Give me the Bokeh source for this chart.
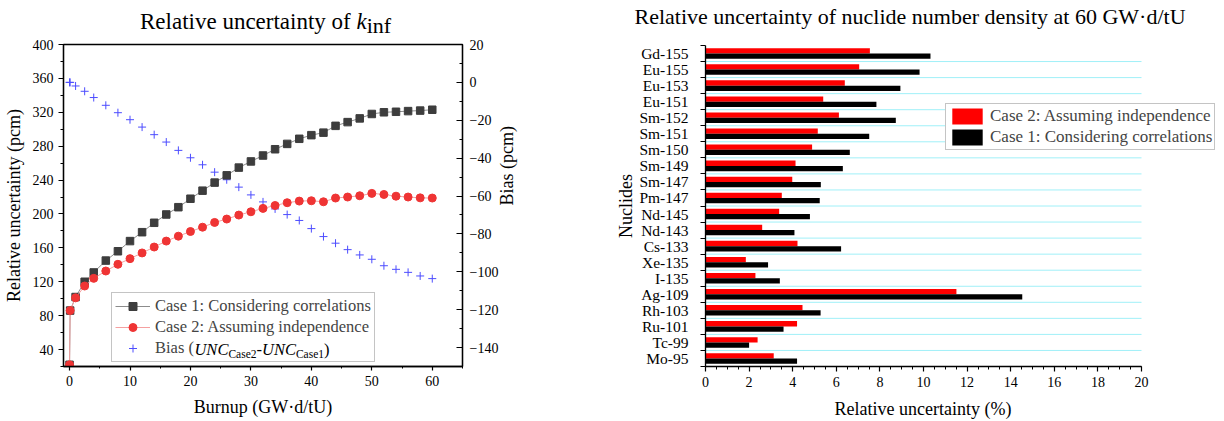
import math
from bokeh.plotting import figure
from bokeh.layouts import row, column
from bokeh.models import (Range1d, LinearAxis, FixedTicker, SingleIntervalTicker,
                          Legend, LegendItem, ColumnDataSource, Div)
from bokeh.core.properties import value
from bokeh.transform import dodge
from bokeh.embed import file_html
from bokeh.resources import INLINE

SERIF = "Liberation Serif"

# ---- k_inf uncertainty versus burnup ----
burnup = [0, 0.1, 1, 2.5, 4, 6, 8, 10, 12, 14, 16, 18, 20, 22, 24, 26, 28, 30,
          32, 34, 36, 38, 40, 42, 44, 46, 48, 50, 52, 54, 56, 58, 60]
unc_case1 = [22, 86, 102, 120, 131, 145, 156, 168, 178.5, 189.6, 199.4, 208, 218,
             227.5, 237, 245.6, 254.7, 262, 269, 276.4, 282.7, 288.7, 293, 296,
             304, 308.4, 312.8, 318, 320, 320.6, 321.4, 322, 323]
unc_case2 = [22, 86, 101, 115, 124, 132.7, 140.6, 147.3, 154, 161, 168, 173.8,
             179.3, 184.4, 190, 194, 198.7, 202.6, 206.6, 210, 213.3, 215.2, 215.6,
             214.4, 218.8, 220, 221.5, 224.3, 223, 221, 220, 219, 218.8]
bias = [0, 0, -1.9, -4.7, -8, -12.1, -16, -19.7, -23.6, -27.6, -31.5, -35.9, -39.8,
        -43.5, -47.4, -51.4, -55.3, -59.4, -63.1, -66.8, -69.8, -72.9, -77.2, -81.4,
        -84.9, -88.3, -91.1, -93.4, -96.8, -98.7, -100.3, -102.2, -103.6]

# ---- nuclide number density uncertainty at 60 GW.d/tU (bottom to top) ----
nuclides = ["Mo-95", "Tc-99", "Ru-101", "Rh-103", "Ag-109", "I-135", "Xe-135",
            "Cs-133", "Nd-143", "Nd-145", "Pm-147", "Sm-147", "Sm-149", "Sm-150",
            "Sm-151", "Sm-152", "Eu-151", "Eu-153", "Eu-155", "Gd-155"]
case2_pct = [3.13, 2.39, 4.20, 4.45, 11.51, 2.29, 1.85, 4.22, 2.60, 3.38, 3.50,
             3.98, 4.13, 4.89, 5.15, 6.12, 5.40, 6.39, 7.05, 7.54]
case1_pct = [4.20, 2.00, 3.58, 5.28, 14.53, 3.41, 2.87, 6.22, 4.08, 4.79, 5.24,
             5.29, 6.30, 6.62, 7.51, 8.73, 7.84, 8.94, 9.82, 10.32]


def style_axis(ax, tick_out=5, minor_out=3, tick_in=0, minor_in=0):
    ax.axis_line_color = "black"
    ax.axis_line_width = 1.3
    ax.major_tick_line_color = "black"
    ax.minor_tick_line_color = "black"
    ax.major_tick_line_width = 1.2
    ax.minor_tick_line_width = 1
    ax.major_tick_out = tick_out
    ax.major_tick_in = tick_in
    ax.minor_tick_out = minor_out
    ax.minor_tick_in = minor_in
    ax.major_label_text_font = SERIF
    ax.major_label_text_font_size = "14px"
    ax.major_label_text_color = "black"
    ax.axis_label_text_font = SERIF
    ax.axis_label_text_font_size = "18px"
    ax.axis_label_text_font_style = "normal"
    ax.axis_label_text_color = "black"


def text_div(html, width, height, css):
    return Div(text=f'<div style="font-family:\'{SERIF}\';color:black;'
                    f'white-space:nowrap;box-sizing:content-box;{css}">{html}</div>',
               width=width, height=height, margin=0)


# ================= left panel =================
p1 = figure(frame_width=399, frame_height=322,
            min_border_left=63, min_border_right=138,
            min_border_top=8, min_border_bottom=55,
            x_range=Range1d(-1, 65), y_range=Range1d(20, 400),
            output_backend="svg", toolbar_location=None)
p1.title.visible = False
p1.grid.visible = False
p1.outline_line_color = "black"
p1.outline_line_width = 1.3
p1.background_fill_color = "white"
p1.border_fill_color = "white"
p1.extra_y_ranges = {"bias": Range1d(-150, 20)}

p1.xaxis.ticker = SingleIntervalTicker(interval=10, num_minor_ticks=2)
p1.yaxis.ticker = SingleIntervalTicker(interval=40, num_minor_ticks=2)
p1.xaxis.axis_label = "Burnup (GW·d/tU)"
p1.yaxis.axis_label = "Relative uncertainty (pcm)"
style_axis(p1.xaxis[0], tick_out=4, minor_out=2)
style_axis(p1.yaxis[0], tick_out=5, minor_out=3)
p1.xaxis.major_label_standoff = 5
p1.xaxis.axis_label_standoff = 8
p1.yaxis.major_label_standoff = 5
p1.yaxis.axis_label_standoff = 6

bias_axis = LinearAxis(y_range_name="bias",
                       ticker=SingleIntervalTicker(interval=20, num_minor_ticks=2),
                       axis_label="Bias (pcm)")
style_axis(bias_axis, tick_out=0, minor_out=0, tick_in=6, minor_in=3)
bias_axis.major_label_standoff = 7
bias_axis.axis_label_standoff = 6
if "axis_label_orientation" in bias_axis.properties():
    bias_axis.axis_label_orientation = math.pi / 2
p1.add_layout(bias_axis, "right")

r_bias = p1.scatter(burnup, bias, marker="cross", size=8, line_color="#4d4dff",
                    line_width=1, y_range_name="bias")
l1 = p1.line(burnup, unc_case1, line_color="#8c8c8c", line_width=1)
s1 = p1.scatter(burnup, unc_case1, marker="square", size=7.5,
                fill_color="#3d3d3d", line_color="#3d3d3d")
l2 = p1.line(burnup, unc_case2, line_color="#f5a0a0", line_width=1)
c2 = p1.scatter(burnup, unc_case2, marker="circle", size=8,
                fill_color="#ef3434", line_color="#ef3434")

LEG_X, LEG_Y, LEG_PAD, LEG_GLYPH, LEG_STAND = 48, 4, 3, 35, 5
leg1 = Legend(items=[
    LegendItem(label="Case 1: Considering correlations", renderers=[l1, s1]),
    LegendItem(label="Case 2: Assuming independence", renderers=[l2, c2]),
    LegendItem(label="Bias (", renderers=[r_bias]),
], location=(LEG_X, LEG_Y), margin=0, padding=LEG_PAD, spacing=1,
    glyph_width=LEG_GLYPH, glyph_height=20, label_height=20,
    label_standoff=LEG_STAND,
    label_text_font=SERIF, label_text_font_size="16.5px",
    border_line_color="#8a8a8a", border_line_width=1,
    background_fill_color=None)
p1.add_layout(leg1)

# remainder of the bias legend entry: Bias (UNC_Case2-UNC_Case1)
px_per_x = 399 / 66.0
anchor_fx = (0 - (-1)) * px_per_x          # screen offset of x=0 from frame left
start = LEG_X + LEG_PAD + LEG_GLYPH + LEG_STAND + 2.361 * 16.5 + 1
w_unc, w_sub, w_dash = 2.056 * 16.5, 2.444 * 11.5, 0.333 * 16.5
pieces = ["UNC", "Case2", "-", "UNC", "Case1", ")"]
widths = [w_unc, w_sub, w_dash, w_unc, w_sub, 0]
sizes = ["16.5px", "11.5px", "16.5px", "16.5px", "11.5px", "16.5px"]
styles = ["italic", "normal", "normal", "italic", "normal", "normal"]
drops = [0, 4, 0, 0, 4, 0]
offs, cur = [], start
for w in widths:
    offs.append(cur - anchor_fx)
    cur += w
sub_src = ColumnDataSource(dict(px=[0] * 6, py=[40] * 6, label=pieces, xo=offs,
                                yo=drops, fsize=sizes, fstyle=styles))
p1.text(x="px", y="py", text="label", x_offset="xo", y_offset="yo",
        text_font_size="fsize", text_font_style="fstyle",
        text_font=value(SERIF), text_baseline="middle",
        text_align="left", text_color="black", source=sub_src)

d1 = text_div('Relative uncertainty of <i>k</i>'
              '<span style="position:relative;top:4px;font-size:22px">inf</span>',
              600, 36, "font-size:23px;line-height:23px;padding-left:140px;"
                       "padding-top:10px;")

# ================= right panel =================
X_MAX = 20
px_per_pct = 436 / X_MAX
frame_w2 = 519
src = ColumnDataSource(dict(pos=[i + 0.5 for i in range(len(nuclides))],
                            case2=case2_pct, case1=case1_pct))
bounds_src = ColumnDataSource(dict(y=list(range(1, len(nuclides))),
                                   x0=[0] * (len(nuclides) - 1),
                                   x1=[X_MAX] * (len(nuclides) - 1)))

p2 = figure(frame_width=frame_w2, frame_height=321,
            min_border_left=105, min_border_right=0,
            min_border_top=9, min_border_bottom=30,
            x_range=Range1d(0, frame_w2 / px_per_pct),
            y_range=Range1d(0, len(nuclides)),
            output_backend="svg", toolbar_location=None)
p2.title.visible = False
p2.outline_line_color = None
p2.background_fill_color = "white"
p2.border_fill_color = "white"
p2.grid.visible = False

# cyan separators between nuclide rows
p2.segment(x0="x0", x1="x1", y0="y", y1="y", source=bounds_src,
           line_color="#a0f0f8", line_width=1)

p2.xaxis.ticker = SingleIntervalTicker(interval=2, num_minor_ticks=4)
p2.xaxis.bounds = (0, X_MAX)
p2.yaxis.ticker = FixedTicker(ticks=[i + 0.5 for i in range(len(nuclides))],
                              minor_ticks=list(range(0, len(nuclides) + 1)))
p2.yaxis.major_label_overrides = {i + 0.5: n for i, n in enumerate(nuclides)}
p2.yaxis.axis_label = "Nuclides"
style_axis(p2.xaxis[0], tick_out=5, minor_out=3)
style_axis(p2.yaxis[0], tick_out=0, minor_out=5)
p2.yaxis.major_label_text_font_size = "15.5px"
p2.yaxis.major_label_standoff = 12
p2.yaxis.axis_label_standoff = 0
p2.xaxis.major_label_standoff = 5

b2 = p2.hbar(y=dodge("pos", 0.165), left=0, right="case2", height=0.33,
             source=src, fill_color="#ff0000", line_color=None)
b1 = p2.hbar(y=dodge("pos", -0.165), left=0, right="case1", height=0.33,
             source=src, fill_color="#000000", line_color=None)

leg2 = Legend(items=[
    LegendItem(label="Case 2: Assuming independence", renderers=[b2]),
    LegendItem(label="Case 1: Considering correlations", renderers=[b1]),
], location=(240, 216), margin=0, padding=2, spacing=1,
    glyph_width=38, glyph_height=20, label_height=20, label_standoff=4,
    label_text_font=SERIF, label_text_font_size="17px",
    border_line_color="#8a8a8a", border_line_width=1,
    background_fill_color="white", background_fill_alpha=1)
p2.add_layout(leg2)

d2 = text_div("Relative uncertainty of nuclide number density at 60 GW·d/tU",
              624, 36, "font-size:22px;line-height:22px;text-align:center;"
                       "width:620px;padding-top:6px;")
# x-axis title of the bar chart, centred under the 0-20 % span
axis_centre = 105 + px_per_pct * X_MAX / 2
d3 = text_div("Relative uncertainty (%)", 624, 25,
              f"font-size:18px;line-height:18px;text-align:center;width:300px;"
              f"padding-left:{axis_centre - 150:.1f}px;padding-top:4px;")

layout = row(column(d1, p1), column(d2, p2, d3))
open("out.html", "w").write(file_html(layout, INLINE))
